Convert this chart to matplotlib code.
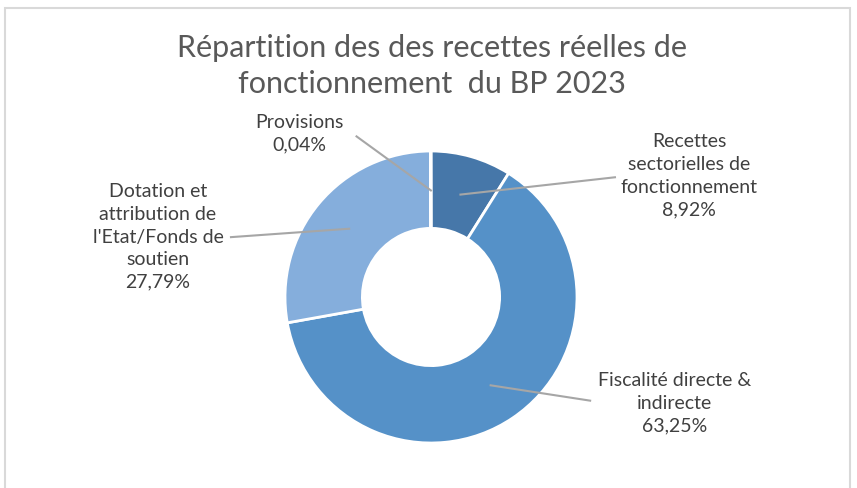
import matplotlib.pyplot as plt
import numpy as np
from matplotlib.patches import Rectangle

# data
categories = ["Recettes\nsectorielles de\nfonctionnement", "Fiscalité directe &\nindirecte",
              "Dotation et\nattribution de\nl'Etat/Fonds de\nsoutien", "Provisions"]
values = [8.92, 63.25, 27.79, 0.04]
value_labels = ["8,92%", "63,25%", "27,79%", "0,04%"]
colors = ["#4677A9", "#5591C8", "#85AEDC", "#85AEDC"]

plt.rcParams['font.family'] = ['Lato', 'DejaVu Sans']

W, H = 857, 488
fig = plt.figure(figsize=(W / 100, H / 100), dpi=100)

# light grey chart frame
fig.patches.append(Rectangle((5 / W, -0.05), 845 / W, 1 - 8 / H + 0.05, transform=fig.transFigure,
                             fill=False, edgecolor="#D9D9D9", linewidth=1.5))

fig.text(0.504, 1 - 66 / H, "Répartition des des recettes réelles de\nfonctionnement  du BP 2023",
         ha="center", va="center", fontsize=22, color="#595959", linespacing=1.35)

# donut axes, centre (431, 297) px, radius 146 px
cx, cy, r = 431, 297, 146
ax = fig.add_axes([(cx - r) / W, 1 - (cy + r) / H, 2 * r / W, 2 * r / H])
wedges, _ = ax.pie(values, colors=colors, startangle=90, counterclock=False, radius=1,
                   wedgeprops=dict(width=0.53, edgecolor="white", linewidth=2))
ax.set_xlim(-1, 1)
ax.set_ylim(-1, 1)
ax.set_aspect("equal")
ax.axis("off")

# leader line ends and text centres, in donut units
line_ends = [(1.26, 0.82), (1.09, -0.71), (-1.37, 0.41), (-0.51, 1.10)]
text_pos = [(1.77, 0.83), (1.67, -0.73), (-1.87, 0.41), (-0.90, 1.12)]

for w, end, tp, cat, vl in zip(wedges, line_ends, text_pos, categories, value_labels):
    ang = np.deg2rad((w.theta1 + w.theta2) / 2)
    rr = 0.73
    x0, y0 = rr * np.cos(ang), rr * np.sin(ang)
    ax.plot([x0, end[0]], [y0, end[1]], color="#A6A6A6", linewidth=1.5, clip_on=False)
    ax.text(tp[0], tp[1], cat + "\n" + vl, ha="center", va="center", fontsize=14,
            color="#404040", linespacing=1.4, clip_on=False)

fig.savefig("out.png", dpi=100)
